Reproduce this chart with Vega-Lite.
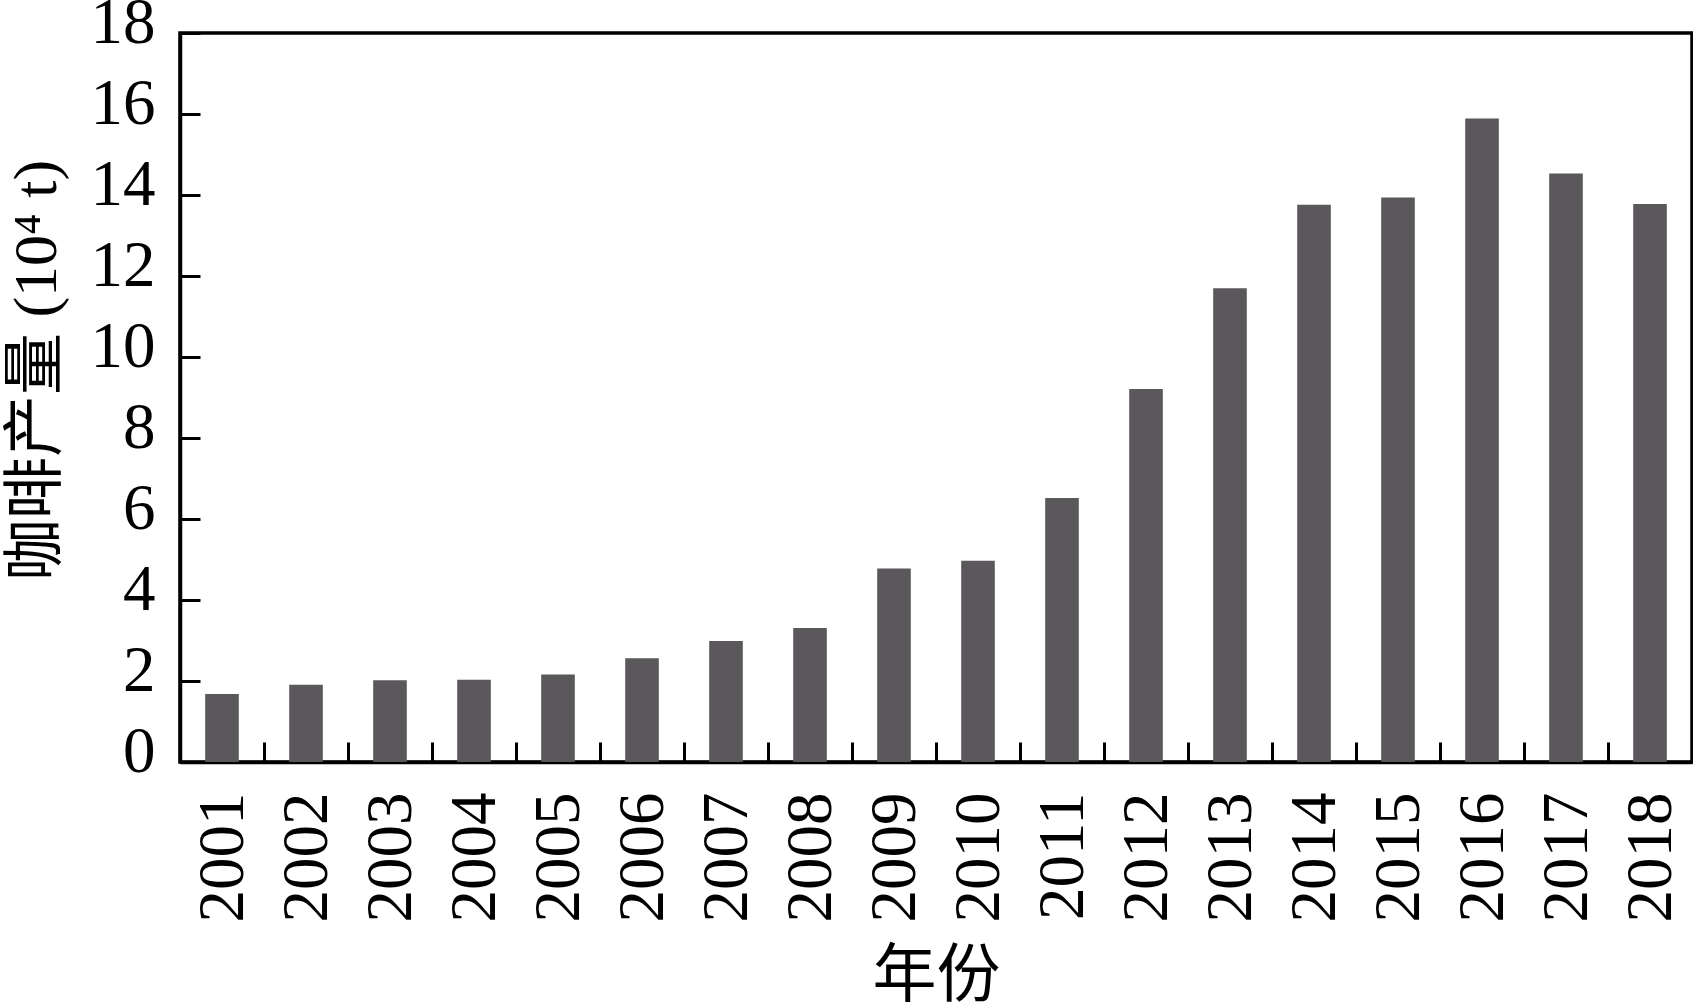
{
  "$schema": "https://vega.github.io/schema/vega-lite/v6.json",
  "width": 1512,
  "height": 729,
  "autosize": {"type": "none"},
  "padding": {"left": 180, "top": 33, "right": 1, "bottom": 246},
  "background": "white",
  "config": {
    "font": "Liberation Serif, Noto Sans CJK SC",
    "view": {"stroke": "black", "strokeWidth": 3.5}
  },
  "data": {
    "values": [
      {"year": "2001", "output": 1.68},
      {"year": "2002", "output": 1.91},
      {"year": "2003", "output": 2.02},
      {"year": "2004", "output": 2.03},
      {"year": "2005", "output": 2.16},
      {"year": "2006", "output": 2.56},
      {"year": "2007", "output": 2.99},
      {"year": "2008", "output": 3.31},
      {"year": "2009", "output": 4.78},
      {"year": "2010", "output": 4.97},
      {"year": "2011", "output": 6.52},
      {"year": "2012", "output": 9.21},
      {"year": "2013", "output": 11.7},
      {"year": "2014", "output": 13.76},
      {"year": "2015", "output": 13.94},
      {"year": "2016", "output": 15.89},
      {"year": "2017", "output": 14.53},
      {"year": "2018", "output": 13.78}
    ]
  },
  "mark": {"type": "bar", "color": "#5a585a", "width": {"band": 0.4}},
  "encoding": {
    "x": {
      "field": "year",
      "type": "ordinal",
      "title": "年份",
      "scale": {"paddingInner": 0, "paddingOuter": 0},
      "axis": {
        "tickBand": "extent",
        "tickSize": -20,
        "tickWidth": 3,
        "tickColor": "black",
        "domainColor": "black",
        "domainWidth": 3.5,
        "labelAngle": -90,
        "labelAlign": "right",
        "labelBaseline": "middle",
        "labelFontSize": 65,
        "labelColor": "black",
        "labelPadding": 50,
        "titleFontSize": 64,
        "titleFontWeight": "normal",
        "titleColor": "black",
        "titlePadding": 22
      }
    },
    "y": {
      "field": "output",
      "type": "quantitative",
      "title": "咖啡产量 (10⁴ t)",
      "scale": {"domain": [0, 18], "nice": false},
      "axis": {
        "values": [0, 2, 4, 6, 8, 10, 12, 14, 16, 18],
        "grid": false,
        "tickSize": -20,
        "tickWidth": 3,
        "tickColor": "black",
        "domainColor": "black",
        "domainWidth": 3.5,
        "labelFontSize": 65,
        "labelColor": "black",
        "labelPadding": 45,
        "labelOffset": -11,
        "labelFlush": false,
        "titleFontSize": 62,
        "titleFontWeight": "normal",
        "titleColor": "black",
        "titlePadding": 22,
        "titleY": 337
      }
    }
  }
}
